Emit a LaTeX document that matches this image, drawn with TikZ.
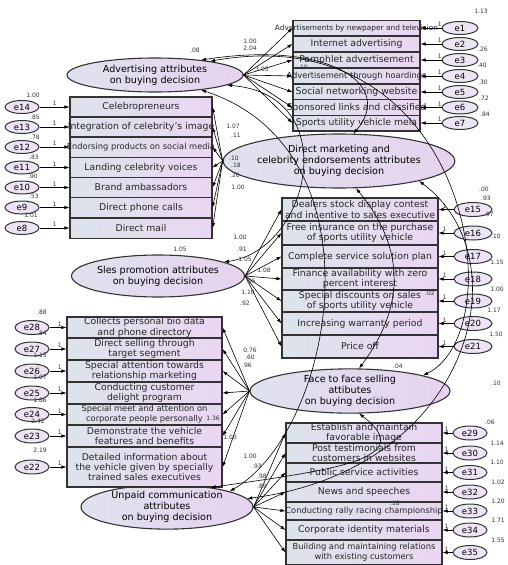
\documentclass[tikz,border=0pt]{standalone}
\usepackage{fontspec}
\setmainfont{DejaVu Sans}
\usetikzlibrary{arrows.meta,shapes.geometric}
\definecolor{boxl}{HTML}{DCE3EB}
\definecolor{boxr}{HTML}{EAD6F2}
\definecolor{latl}{HTML}{DFE2EE}
\definecolor{latr}{HTML}{E6D3EF}
\definecolor{errf}{HTML}{EDE5F5}
\begin{document}
\begin{tikzpicture}[x=1pt,y=-1pt,
 ibox/.style={draw=black!80, line width=1.1pt, inner sep=0pt, left color=boxl, right color=boxr},
 txt/.style={font=\fontsize{9.3}{10.4}\selectfont, align=center, inner sep=0pt, text=black!85},
 txs/.style={txt, font=\fontsize{8.3}{10}\selectfont},
 txx/.style={txt, font=\fontsize{7.4}{9}\selectfont},
 lat/.style={ellipse, draw=black!80, line width=1.1pt, left color=latl, right color=latr, inner sep=0pt, align=center, font=\fontsize{9.6}{11}\selectfont},
 err/.style={ellipse, draw=black!80, line width=1pt, fill=errf, minimum width=34, minimum height=13, inner sep=0pt, font=\fontsize{8.5}{9}\selectfont},
 num/.style={font=\fontsize{6}{6.5}\selectfont, inner sep=0pt, text=black!80},
 arr/.style={-{Latex[length=5pt,width=3.5pt]}, line width=0.6pt},
 cov/.style={{Latex[length=5pt,width=3.5pt]}-{Latex[length=5pt,width=3.5pt]}, line width=0.6pt}]
\useasboundingbox (0,0) rectangle (507,565);
\fill[white] (0,0) rectangle (507,565);

% ---------- latent variables ----------
\node[lat, minimum width=176, minimum height=34] (adv) at (155,75) {Advertising attributes\\on buying decision};
\node[lat, minimum width=188, minimum height=54] (dm) at (339,161) {Direct marketing and\\celebrity endorsements attributes\\on buying decision};
\node[lat, minimum width=173, minimum height=42] (sp) at (158,276) {Sles promotion attributes\\on buying decision};
\node[lat, minimum width=200, minimum height=42] (ftf) at (350,391) {Face to face selling\\attibutes\\on buying decision};
\node[lat, minimum width=172, minimum height=42] (up) at (167,507) {Unpaid communication\\attributes\\on buying decision};

% ---------- advertising indicators ----------
\foreach \i/\y/\s/\t in {1/28/txx/{Advertisements by newpaper and television},2/44/txt/{Internet advertising},3/60/txt/{Pamphlet advertisement},4/76/txs/{Advertisement through hoardings},5/92/txt/{Social networking website},6/107.5/txt/{Sponsored links and classified},7/123/txt/{Sports utility vehicle mela}}{
 \node[ibox, minimum width=127, minimum height=15.9, label={[\s]center:{\t}}] (a\i) at (356.5,\y) {};
 \node[err, minimum width=36] (e\i) at (460,\y) {e\i};
 \draw[arr] (e\i) -- node[num, above=1pt, pos=0.08]{1} (a\i);
 \draw[arr] (adv.east) -- (a\i.west);
}

% ---------- direct marketing indicators ----------
\foreach \i/\e/\y/\s/\t in {1/14/107/txt/{Celebropreneurs},2/13/127/txt/{Integration of celebrity's image},3/12/147/txs/{Endorsing products on social media},4/11/167.5/txt/{Landing celebrity voices},5/10/187.5/txt/{Brand ambassadors},6/9/207.5/txt/{Direct phone calls},7/8/228/txt/{Direct mail}}{
 \node[ibox, minimum width=142, minimum height=20.1, label={[\s]center:{\t}}] (d\i) at (141,\y) {};
 \node[err] (e\e) at (22,\y) {e\e};
 \draw[arr] (e\e) -- node[num, above=1pt, pos=0.5]{1} (d\i);
 \draw[arr] (dm.west) -- (d\i.east);
}

% ---------- sales promotion indicators ----------
\foreach \i/\e/\y/\h/\t in {1/15/209.5/23/{Dealers stock display contest\\and incentive to sales executive},2/16/233/24/{Free insurance on the purchase\\of sports utility vehicle},3/17/256.5/23/{Complete service solution plan},4/18/279/22/{Finance availability with zero\\percent interest},5/19/301/22/{Special discounts on sales\\of sports utility vehicle},6/20/323.5/23/{Increasing warranty period},7/21/346.5/23/{Price off}}{
 \node[ibox, minimum width=156, minimum height=\h, label={[txt]center:{\t}}] (s\i) at (360,\y) {};
 \node[err, minimum width=38, minimum height=14] (e\e) at (473,\y) {e\e};
 \draw[arr] (e\e) -- node[num, above=1pt, pos=0.6]{1} (s\i);
 \draw[arr] (sp.east) -- (s\i.west);
}

% ---------- face to face indicators ----------
\foreach \i/\e/\y/\h/\s/\t in {1/28/327.5/21/txt/{Collects personal bio data\\and phone directory},2/27/349/22/txt/{Direct selling through\\target segment},3/26/371/22/txt/{Special attention towards\\relationship marketing},4/25/393/22/txt/{Conducting customer\\delight program},5/24/414.5/21/txs/{Special meet and attention on\\corporate people personally},6/23/436/22/txt/{Demonstrate the vehicle\\features and benefits},7/22/467/40/txt/{Detailed information about\\the vehicle given by specially\\trained sales executives}}{
 \node[ibox, minimum width=155, minimum height=\h, label={[\s]center:{\t}}] (f\i) at (144.5,\y) {};
 \node[err, minimum height=14] (e\e) at (32,\y) {e\e};
 \draw[arr] (e\e) -- node[num, above=1pt, pos=0.6]{1} (f\i);
 \draw[arr] (ftf.west) -- (f\i.east);
}

% ---------- unpaid communication indicators ----------
\foreach \i/\e/\y/\h/\s/\t in {1/29/433/20/txt/{Establish and maintain\\favorable image},2/30/453/20/txt/{Post testimonials from\\customers in websites},3/31/472.5/19/txt/{Public service activities},4/32/492/20/txt/{News and speeches},5/33/511/18/txs/{Conducting rally racing championship},6/34/530/20/txt/{Corporate identity materials},7/35/552.5/25/txs/{Building and maintaining relations\\with existing customers}}{
 \node[ibox, minimum width=156, minimum height=\h, label={[\s]center:{\t}}] (u\i) at (364,\y) {};
 \node[err, minimum width=34, minimum height=14] (e\e) at (470,\y) {e\e};
 \draw[arr] (e\e) -- node[num, above=1pt, pos=0.6]{1} (u\i);
 \draw[arr] (up.east) -- (u\i.west);
}

% ---------- covariances ----------
\draw[cov] (adv.18) .. controls (330,40) and (395,85) .. (dm.62);
\draw[cov] (adv.-8) .. controls (345,95) and (310,250) .. (sp.12);
\draw[cov] (adv.14) .. controls (470,15) and (515,330) .. (ftf.12);
\draw[cov] (adv.-18) .. controls (385,150) and (335,430) .. (up.14);
\draw[cov] (dm.-58) .. controls (415,260) and (395,320) .. (ftf.68);
\draw[cov] (dm.-14) .. controls (525,260) and (470,470) .. (up.6);
\draw[cov] (up.24) .. controls (330,470) and (420,460) .. (ftf.-68);

% ---------- estimates ----------
\node[num] at (195,50) {.08};
\node[num] at (250,41) {1.00};
\node[num] at (250,48) {2.04};
\node[num] at (262,69) {3.05};
\node[num] at (303,67) {.10};
\node[num] at (481,11) {1.13};
\node[num] at (483,49) {.26};
\node[num] at (482,65) {.40};
\node[num] at (483,82) {.30};
\node[num] at (484,98) {.72};
\node[num] at (485,114) {.84};
\node[num] at (233,126) {1.07};
\node[num] at (236,135) {.11};
\node[num] at (234,158) {.10};
\node[num] at (236,165) {.18};
\node[num] at (235,175) {.26};
\node[num] at (238,187) {1.00};
\node[num] at (33,95) {1.00};
\node[num] at (35,117) {.85};
\node[num] at (35,137) {.78};
\node[num] at (34,157) {.83};
\node[num] at (33,176) {.90};
\node[num] at (34,196) {.53};
\node[num] at (31,215) {1.01};
\node[num] at (180,249) {1.05};
\node[num] at (240,237) {1.00};
\node[num] at (242,249) {.91};
\node[num] at (245,259) {1.05};
\node[num] at (264,270) {1.08};
\node[num] at (251,281) {.95};
\node[num] at (248,292) {1.10};
\node[num] at (245,303) {.92};
\node[num] at (484,189) {.00};
\node[num] at (486,198) {.93};
\node[num] at (489,214) {.97};
\node[num] at (496,236) {.10};
\node[num] at (497,262) {1.15};
\node[num] at (430,293) {.02};
\node[num] at (497,289) {1.00};
\node[num] at (494,310) {1.17};
\node[num] at (496,334) {1.50};
\node[num] at (398,366) {.04};
\node[num] at (496,383) {.10};
\node[num] at (250,350) {0.76};
\node[num] at (250,357) {.60};
\node[num] at (247,365) {.96};
\node[num] at (213,418) {1.36};
\node[num] at (230,437) {1.00};
\node[num] at (42,312) {.88};
\node[num] at (42,333) {.84};
\node[num] at (40,355) {1.13};
\node[num] at (40,377) {1.07};
\node[num] at (40,400) {1.86};
\node[num] at (38,421) {2.42};
\node[num] at (40,450) {2.19};
\node[num] at (250,456) {1.00};
\node[num] at (257,466) {.93};
\node[num] at (262,476) {.98};
\node[num] at (262,486) {.89};
\node[num] at (395,503) {.18};
\node[num] at (490,422) {.06};
\node[num] at (497,443) {1.14};
\node[num] at (497,462) {1.10};
\node[num] at (498,482) {1.02};
\node[num] at (498,501) {1.20};
\node[num] at (498,520) {1.71};
\node[num] at (498,540) {1.55};
\end{tikzpicture}
\end{document}
